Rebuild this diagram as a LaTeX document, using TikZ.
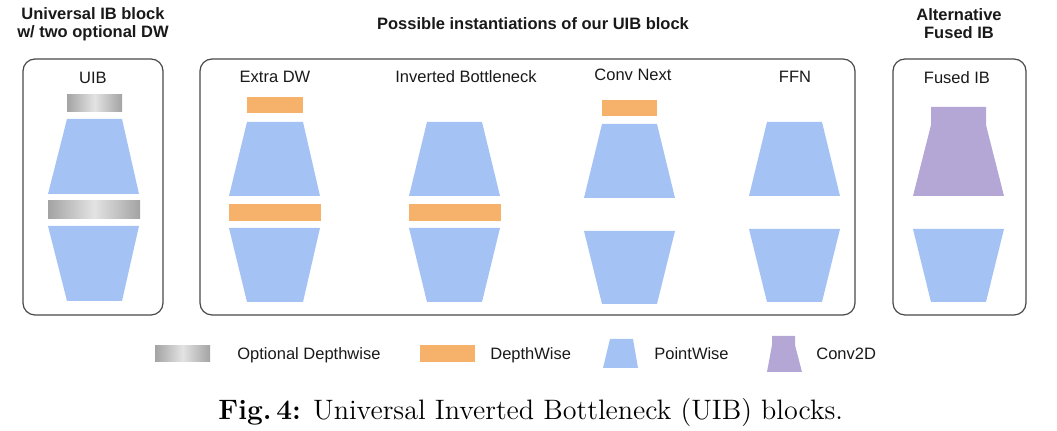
\documentclass[tikz,border=0pt]{standalone}
\usepackage{fontspec}
\usepackage{xcolor}
\usepackage{tikz}
\newfontfamily\arial{Liberation Sans}
\definecolor{pwblue}{RGB}{164,194,244}
\definecolor{dworange}{RGB}{246,178,107}
\definecolor{convpurple}{RGB}{180,167,214}
\definecolor{framegray}{RGB}{72,72,72}

\begin{document}
\begin{tikzpicture}[x=0.5pt, y=-0.5pt,
  every node/.style={font=\arial\fontsize{8.25}{9}\selectfont, text=black!90, inner sep=0pt},
  ttl/.style={font=\arial\bfseries\fontsize{8.25}{9}\selectfont, align=center},
  frame/.style={draw=framegray, line width=0.6pt, rounded corners=6pt},
  pw/.style={fill=pwblue},
  dw/.style={fill=dworange},
  odw/.style={left color=gray!72, right color=gray!72, middle color=gray!22},
  cv/.style={fill=convpurple}
]
  \useasboundingbox (0,0) rectangle (1057,431);

  % Titles
  \node[ttl] (ttluib)   at (93,24)  {Universal IB block\\w/ two optional DW};
  \node[ttl] (ttlinst)  at (533,24) {Possible instantiations of our UIB block};
  \node[ttl] (ttlfused) at (959,24) {Alternative\\Fused IB};

  % Frames
  \draw[frame] (23,59)  rectangle (163,315);
  \draw[frame] (200,59) rectangle (855,315);
  \draw[frame] (893,59) rectangle (1026,315);

  % Block names
  \node (uib)   at (93,78)  {UIB};
  \node (extra) at (275,77) {Extra DW};
  \node (ib)    at (466,77) {Inverted Bottleneck};
  \node (cnext) at (633,75) {Conv Next};
  \node (ffn)   at (795,77) {FFN};
  \node (fused) at (957,78) {Fused IB};

  % UIB
  \shade[odw] (67,95) rectangle (122,112);
  \fill[pw] (67,119) -- (122,119) -- (139,194) -- (48,194) -- cycle;
  \shade[odw] (48,201) rectangle (140,219);
  \fill[pw] (48,226) -- (139,226) -- (122,301) -- (67,301) -- cycle;

  % Extra DW
  \fill[dw] (247,97) rectangle (303,113);
  \fill[pw] (247,122) -- (303,122) -- (320,196) -- (229,196) -- cycle;
  \fill[dw] (229,204) rectangle (321,221);
  \fill[pw] (229,228) -- (320,228) -- (303,302) -- (247,302) -- cycle;

  % Inverted Bottleneck
  \fill[pw] (427,122) -- (482,122) -- (500,196) -- (409,196) -- cycle;
  \fill[dw] (409,204) rectangle (501,221);
  \fill[pw] (409,228) -- (500,228) -- (482,302) -- (427,302) -- cycle;

  % Conv Next
  \fill[dw] (602,100) rectangle (657,116);
  \fill[pw] (602,124) -- (657,124) -- (675,198) -- (584,198) -- cycle;
  \fill[pw] (584,231) -- (675,231) -- (657,304) -- (602,304) -- cycle;

  % FFN
  \fill[pw] (767,122) -- (822,122) -- (840,196) -- (749,196) -- cycle;
  \fill[pw] (749,229) -- (840,229) -- (822,302) -- (767,302) -- cycle;

  % Fused IB
  \fill[cv] (931,107) -- (986,107) -- (986,125) -- (1004,196) -- (913,196) -- (931,125) -- cycle;
  \fill[pw] (913,229) -- (1004,229) -- (986,302) -- (931,302) -- cycle;

  % Legend
  \shade[odw] (155,346) rectangle (210,362);
  \node[anchor=base west] (lgodw) at (237,359.5) {Optional Depthwise};
  \fill[dw] (420,345) rectangle (475,362);
  \node[anchor=base west] (lgdw) at (490,359.5) {DepthWise};
  \fill[pw] (610,339) -- (633,339) -- (638,368) -- (603,368) -- cycle;
  \node[anchor=base west] (lgpw) at (654,359.5) {PointWise};
  \fill[cv] (772,336) -- (795,336) -- (795,345) -- (802,372) -- (767,372) -- (772,345) -- cycle;
  \node[anchor=base west] (lgcv) at (816,359.5) {Conv2D};

  % Caption
  \node[anchor=base west, font=\normalfont\fontsize{14.05}{16}\selectfont, text=black] (caption) at (218,420)
       {\textbf{Fig.\,4:} Universal Inverted Bottleneck (UIB) blocks.};
\end{tikzpicture}
\end{document}
